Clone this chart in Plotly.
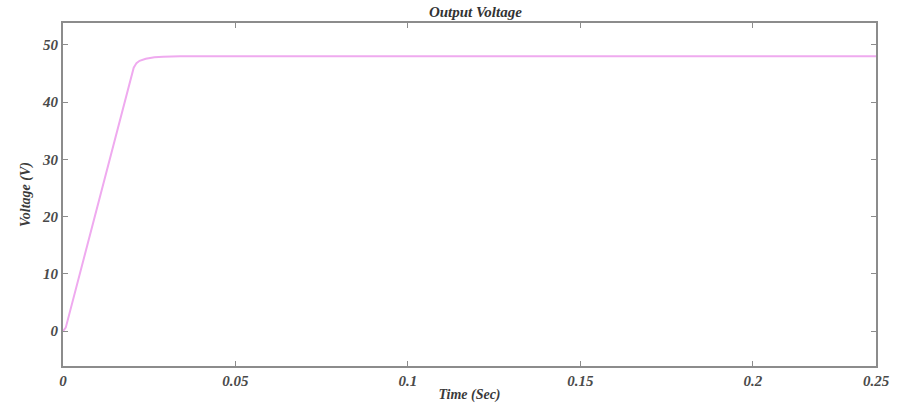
import plotly.graph_objects as go

# Data (time in s, voltage in V)
time_s = [0.0, 0.0008, 0.0205, 0.0213, 0.0222, 0.0240, 0.0265, 0.0290, 0.0340, 0.1, 0.2, 0.25]
voltage_v = [0.0, 0.6, 46.0, 46.8, 47.2, 47.55, 47.8, 47.92, 48.0, 48.0, 48.0, 48.0]

x_tick_vals = [0, 0.05, 0.1, 0.15, 0.2, 0.2357]
x_tick_text = ["0", "0.05", "0.1", "0.15", "0.2", "0.25"]
y_tick_vals = [0, 10, 20, 30, 40, 50]

font_family = "Liberation Serif, Times New Roman, serif"
tick_font = dict(family=font_family, size=15, color="#4a4a4a", style="italic", weight="bold")
label_font = dict(family=font_family, size=14, color="#3a3a3a", style="italic", weight="bold")

fig = go.Figure()
fig.add_trace(go.Scatter(
    x=time_s, y=voltage_v, mode="lines",
    line=dict(color="#efaaef", width=2),
    showlegend=False,
))

axis_common = dict(
    showgrid=False, zeroline=False,
    showline=True, linecolor="#8c8c8c", linewidth=2, mirror="allticks",
    ticks="inside", ticklen=5, tickcolor="#8c8c8c", tickwidth=1,
    tickfont=tick_font,
)

fig.update_layout(
    width=902, height=412,
    margin=dict(l=63, r=15, t=23, b=45),
    paper_bgcolor="white", plot_bgcolor="white",
    title=dict(text="Output Voltage", x=0.527, xanchor="center", y=0.972, yanchor="middle",
               font=dict(family=font_family, size=15, color="#333", style="italic", weight="bold")),
    xaxis=dict(range=[0, 0.2357], tickvals=x_tick_vals, ticktext=x_tick_text,
               title=dict(text="Time (Sec)", standoff=1, font=label_font),
               **axis_common),
    yaxis=dict(range=[-6.1, 53.8], tickvals=y_tick_vals,
               title=dict(text="Voltage (V)", standoff=8, font=label_font),
               **axis_common),
)

fig.write_html("out.html")
